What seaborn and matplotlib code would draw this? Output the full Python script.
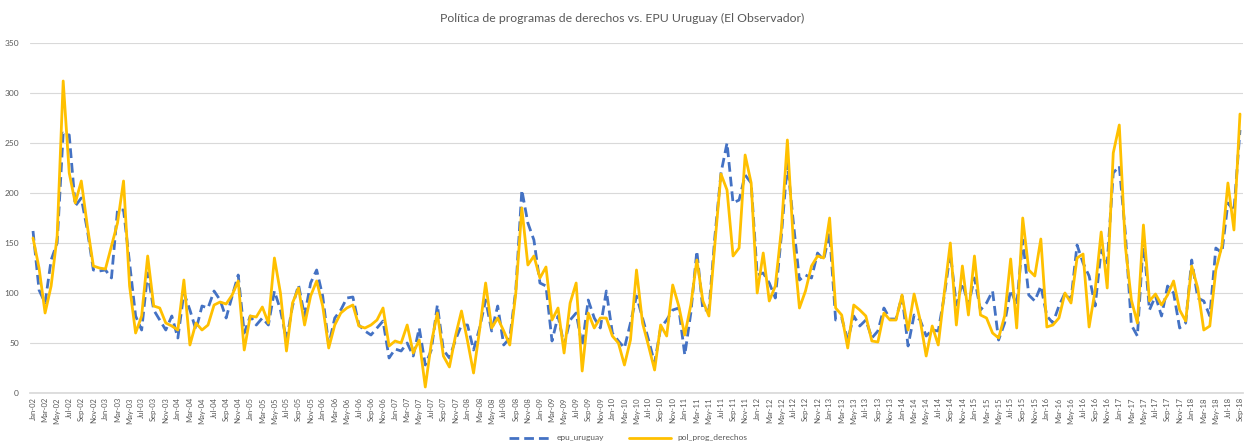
# Política de programas de derechos vs. EPU Uruguay (El Observador) - monthly series

import pandas as pd
import seaborn as sns
import matplotlib.pyplot as plt

sns.set_theme(style="white")
plt.rcParams['font.family'] = ['Lato', 'DejaVu Sans']

months = pd.date_range("2002-01-01", periods=201, freq="MS")
month_labels = [m.strftime("%b-%y") for m in months]

epu_uruguay = [
    162, 103, 90, 133, 150, 260, 258, 187, 195, 163, 123, 122, 123, 115, 183, 183, 130, 77, 63, 120,
    83, 73, 63, 77, 55, 100, 83, 63, 87, 85, 102, 93, 75, 97, 118, 60, 77, 68, 75, 68,
    102, 83, 53, 87, 108, 77, 110, 123, 97, 48, 75, 83, 95, 96, 68, 62, 58, 65, 72, 35,
    44, 42, 50, 37, 65, 28, 43, 88, 43, 35, 53, 68, 68, 43, 65, 93, 62, 87, 48, 55,
    103, 203, 170, 153, 110, 107, 52, 77, 48, 73, 80, 47, 93, 75, 65, 102, 60, 52, 45, 70,
    97, 75, 53, 30, 65, 73, 83, 85, 38, 80, 142, 83, 83, 157, 220, 250, 190, 193, 218, 210,
    118, 120, 110, 95, 157, 230, 170, 113, 118, 115, 140, 133, 160, 73, 75, 53, 77, 67, 73, 55,
    62, 85, 74, 74, 97, 47, 78, 73, 57, 63, 62, 97, 140, 88, 110, 88, 115, 83, 90, 102,
    53, 70, 103, 88, 153, 98, 92, 107, 77, 70, 87, 100, 93, 148, 130, 117, 87, 143, 130, 220,
    227, 160, 68, 57, 153, 83, 97, 77, 107, 100, 65, 70, 133, 95, 92, 77, 145, 140, 190, 182,
    263,
]

pol_prog_derechos = [
    155, 125, 80, 107, 157, 312, 220, 190, 212, 167, 127, 125, 124, 147, 170, 212, 107, 60, 77, 137,
    87, 85, 70, 67, 63, 113, 48, 70, 63, 68, 88, 91, 89, 98, 112, 43, 77, 76, 86, 70,
    135, 100, 42, 90, 105, 68, 97, 112, 87, 45, 68, 80, 85, 88, 67, 65, 68, 73, 85, 47,
    52, 50, 68, 40, 53, 6, 50, 80, 37, 26, 57, 82, 52, 20, 63, 110, 65, 75, 62, 48,
    100, 185, 128, 137, 115, 126, 73, 85, 40, 90, 110, 22, 80, 65, 75, 75, 57, 50, 28, 53,
    123, 70, 47, 23, 68, 57, 108, 87, 58, 88, 133, 92, 77, 150, 219, 203, 137, 145, 238, 210,
    100, 140, 92, 107, 163, 253, 150, 85, 102, 127, 137, 135, 175, 85, 78, 45, 88, 83, 77, 52,
    51, 80, 73, 73, 98, 63, 99, 73, 37, 67, 48, 100, 150, 68, 127, 78, 137, 78, 75, 60,
    55, 77, 134, 65, 175, 123, 117, 154, 66, 68, 75, 100, 90, 135, 139, 66, 103, 161, 105, 240,
    268, 147, 93, 70, 168, 92, 99, 88, 98, 112, 83, 72, 127, 105, 63, 67, 123, 147, 210, 163,
    279,
]

d = pd.DataFrame({"epu_uruguay": epu_uruguay, "pol_prog_derechos": pol_prog_derechos})
d["pos"] = range(len(d))
long = d.melt(id_vars="pos", var_name="serie", value_name="valor")

grey = "#595959"
fig = plt.figure(figsize=(12.44, 4.41), dpi=100)
ax = fig.add_axes([30 / 1244, 1 - 393 / 441, 1213 / 1244, 350 / 441])

sns.lineplot(data=long, x="pos", y="valor", hue="serie", style="serie",
             palette={"epu_uruguay": "#4472C4", "pol_prog_derechos": "#FFC000"},
             dashes={"epu_uruguay": (3.5, 1.8), "pol_prog_derechos": ""},
             linewidth=2, ax=ax)

ax.set_xlim(-0.5, len(d) - 0.5)
ax.set_ylim(0, 350)
ax.set_yticks(range(0, 351, 50))
ax.set_xticks(range(0, len(d), 2))
ax.set_xticklabels(month_labels[::2], rotation=90)
ax.tick_params(axis="x", labelsize=5.5, colors=grey, length=0, pad=3)
ax.tick_params(axis="y", labelsize=6, colors=grey, length=0, pad=8)
ax.set_xlabel("")
ax.set_ylabel("")
ax.grid(axis="y", color="#D9D9D9", linewidth=0.8)
ax.grid(axis="x", visible=False)
for side in ["top", "right", "left"]:
    ax.spines[side].set_visible(False)
ax.spines["bottom"].set_color("#D9D9D9")

handles, labels = ax.get_legend_handles_labels()
ax.get_legend().remove()
fig.legend(handles, labels, loc="lower center", bbox_to_anchor=(0.505, -0.018), ncol=2,
           frameon=False, fontsize=6, labelcolor=grey, handlelength=5, columnspacing=3)

fig.text(0.5, 1 - 18 / 441, "Política de programas de derechos vs. EPU Uruguay (El Observador)",
         ha="center", va="center", fontsize=8.8, color=grey)

plt.savefig("out.png", dpi=100)
